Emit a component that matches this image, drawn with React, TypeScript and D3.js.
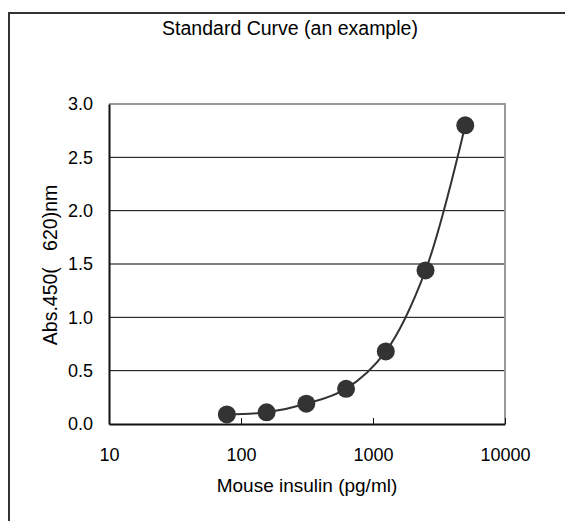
import React, { useEffect, useRef } from 'react';
import * as d3 from 'd3';

const concentrations = [78.125, 156.25, 312.5, 625, 1250, 2500, 5000];
const absorbance = [0.09, 0.11, 0.19, 0.33, 0.68, 1.44, 2.8];
const xTicks = [10, 100, 1000, 10000];
const yTicks = [0, 0.5, 1.0, 1.5, 2.0, 2.5, 3.0];

const FONT = '"Liberation Sans", Arial, sans-serif';

function StandardCurve() {
  const ref = useRef<SVGSVGElement | null>(null);

  useEffect(() => {
    if (!ref.current) return;
    const svg = d3.select(ref.current);
    svg.selectAll('*').remove();

    const left = 109, right = 505, top = 104, bottom = 424;

    const x = d3.scaleLog().domain([10, 10000]).range([left, right]);
    const y = d3.scaleLinear().domain([0, 3]).range([bottom, top]);

    // outer frame (runs off the right and bottom edge)
    svg.append('rect')
      .attr('x', 9).attr('y', 13)
      .attr('width', 700).attr('height', 700)
      .attr('fill', 'none')
      .attr('stroke', '#333')
      .attr('stroke-width', 2);

    svg.append('text')
      .attr('x', 290).attr('y', 35)
      .attr('text-anchor', 'middle')
      .style('font-family', FONT)
      .style('font-size', '19.5px')
      .attr('fill', '#000')
      .text('Standard Curve (an example)');

    // gridlines
    svg.append('g')
      .selectAll('line')
      .data(yTicks.filter((t) => t > 0 && t < 3))
      .join('line')
      .attr('x1', left).attr('x2', right)
      .attr('y1', (d) => y(d)).attr('y2', (d) => y(d))
      .attr('stroke', '#000')
      .attr('stroke-width', 1);

    // top and right border of plot area
    svg.append('path')
      .attr('d', `M${left},${top}H${right}V${bottom}`)
      .attr('fill', 'none')
      .attr('stroke', '#999')
      .attr('stroke-width', 2);

    // x axis
    const xAxis = svg.append('g')
      .attr('transform', `translate(0,${bottom})`)
      .call(
        d3.axisBottom(x)
          .tickValues(xTicks)
          .tickFormat((d) => String(d))
          .tickSizeInner(-6)
          .tickSizeOuter(0)
          .tickPadding(24)
      );
    xAxis.select('.domain').attr('stroke', '#111').attr('stroke-width', 2);
    xAxis.selectAll('.tick line').attr('stroke', '#111');
    xAxis.selectAll('text')
      .style('font-family', FONT)
      .style('font-size', '18px')
      .attr('fill', '#000');

    // y axis
    const yAxis = svg.append('g')
      .attr('transform', `translate(${left},0)`)
      .call(
        d3.axisLeft(y)
          .tickValues(yTicks)
          .tickFormat((d) => (d as number).toFixed(1))
          .tickSize(0)
          .tickPadding(16)
      );
    yAxis.select('.domain').attr('stroke', '#111').attr('stroke-width', 2);
    yAxis.selectAll('text')
      .style('font-family', FONT)
      .style('font-size', '18px')
      .attr('fill', '#000');

    // axis titles
    svg.append('text')
      .attr('x', (left + right) / 2).attr('y', 492)
      .attr('text-anchor', 'middle')
      .style('font-family', FONT)
      .style('font-size', '19px')
      .attr('fill', '#000')
      .text('Mouse insulin (pg/ml)');

    svg.append('text')
      .attr('transform', `translate(57,${(top + bottom) / 2 + 1}) rotate(-90)`)
      .attr('text-anchor', 'middle')
      .style('font-family', FONT)
      .style('font-size', '19.5px')
      .attr('fill', '#000')
      .text('Abs.450(\u00a0\u00a0\u00a0620)nm');

    const pts: [number, number][] = concentrations.map((c, i) => [c, absorbance[i]]);

    const line = d3.line<[number, number]>()
      .x((d) => x(d[0]))
      .y((d) => y(d[1]))
      .curve(d3.curveCatmullRom.alpha(0.5));

    svg.append('path')
      .datum(pts)
      .attr('d', line)
      .attr('fill', 'none')
      .attr('stroke', '#333')
      .attr('stroke-width', 2);

    svg.append('g')
      .selectAll('circle')
      .data(pts)
      .join('circle')
      .attr('cx', (d) => x(d[0]))
      .attr('cy', (d) => y(d[1]))
      .attr('r', 9)
      .attr('fill', '#333');
  }, []);

  return (
    <svg
      ref={ref}
      width={565}
      height={521}
      style={{ position: 'absolute', left: 0, top: 0, background: '#fff' }}
    />
  );
}

export default function App() {
  return <StandardCurve />;
}
